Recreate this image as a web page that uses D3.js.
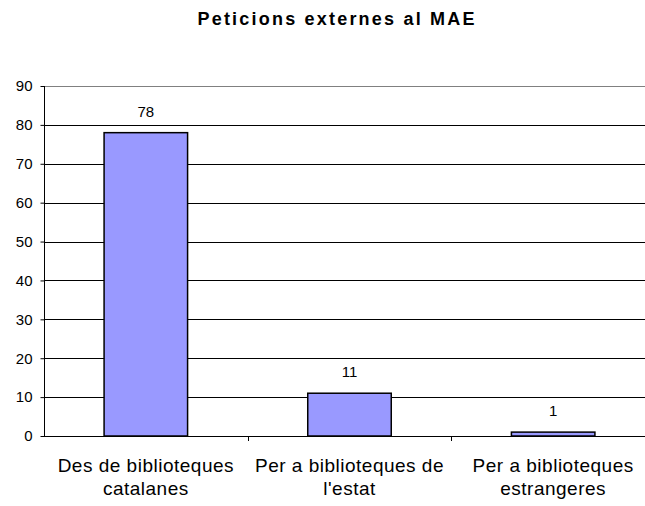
<!DOCTYPE html>
<html>
<head>
<meta charset="utf-8">
<script src="https://cdn.jsdelivr.net/npm/d3@7"></script>
<style>
  body { margin: 0; background: #fff; }
  svg { display: block; font-family: "Liberation Sans", Arial, sans-serif; }
</style>
</head>
<body>
<div id="chart"></div>
<script>
// data
var categories = [
    ["Des de biblioteques", "catalanes"],
    ["Per a biblioteques de", "l'estat"],
    ["Per a biblioteques", "estrangeres"]
];
var values = [78, 11, 1];
var yTicks = [0, 10, 20, 30, 40, 50, 60, 70, 80, 90];
var title = "Peticions externes al MAE";

var width = 645, height = 506,
    plotLeft = 44, plotRight = 655, plotTop = 86, plotBottom = 436;

var svg = d3.select("#chart").append("svg")
    .attr("width", width)
    .attr("height", height)
    .style("overflow", "hidden");

var keys = categories.map(function(c) { return c.join(" "); });

var x = d3.scaleBand()
    .domain(keys)
    .range([plotLeft, plotRight])
    .paddingInner(0.59)
    .paddingOuter(0.295);

var y = d3.scaleLinear()
    .domain([0, 90])
    .range([plotBottom, plotTop]);

// title
svg.append("text")
    .attr("x", 336)
    .attr("y", 25)
    .attr("text-anchor", "middle")
    .attr("font-size", "18px")
    .attr("font-weight", "bold")
    .attr("textLength", 277)
    .attr("lengthAdjust", "spacing")
    .text(title);

// gridlines
svg.append("g")
    .selectAll("line")
    .data(yTicks.filter(function(d) { return d > 0; }))
    .enter().append("line")
    .attr("x1", plotLeft)
    .attr("x2", plotRight)
    .attr("y1", function(d) { return Math.round(y(d)) + 0.5; })
    .attr("y2", function(d) { return Math.round(y(d)) + 0.5; })
    .attr("stroke", function(d) { return d === 90 ? "#808080" : "#000"; })
    .attr("stroke-width", 1);

// bars
svg.append("g")
    .selectAll("rect")
    .data(values)
    .enter().append("rect")
    .attr("x", function(d, i) { return x(keys[i]); })
    .attr("y", function(d) { return y(d); })
    .attr("width", x.bandwidth())
    .attr("height", function(d) { return y(0) - y(d); })
    .attr("fill", "#9999ff")
    .attr("stroke", "#000")
    .attr("stroke-width", 1.5);

// value labels
svg.append("g")
    .selectAll("text")
    .data(values)
    .enter().append("text")
    .attr("x", function(d, i) { return x(keys[i]) + x.bandwidth() / 2; })
    .attr("y", function(d) { return y(d) - 16; })
    .attr("text-anchor", "middle")
    .attr("font-size", "15px")
    .attr("fill", "#000")
    .text(function(d) { return d; });

// y axis
var yAxis = d3.axisLeft(y)
    .tickValues(yTicks)
    .tickSize(4)
    .tickPadding(8);

var gy = svg.append("g")
    .attr("transform", "translate(" + (plotLeft + 0.5) + ",0)")
    .call(yAxis);
gy.select(".domain").remove();
gy.append("line")
    .attr("y1", plotTop)
    .attr("y2", plotBottom + 1)
    .attr("stroke", "#000");
gy.selectAll(".tick text")
    .attr("font-size", "15px")
    .attr("font-family", "\"Liberation Sans\", Arial, sans-serif")
    .attr("fill", "#000");
gy.selectAll(".tick line").attr("stroke", "#000");

// x axis line with ticks at category boundaries
var step = x.step();
var boundaries = keys.map(function(k) { return x(k) - step * x.paddingInner() / 2; }).slice(1);

var gx = svg.append("g");
gx.append("line")
    .attr("x1", plotLeft)
    .attr("x2", plotRight)
    .attr("y1", plotBottom + 0.5)
    .attr("y2", plotBottom + 0.5)
    .attr("stroke", "#000");
gx.selectAll(".xtick")
    .data(boundaries)
    .enter().append("line")
    .attr("class", "xtick")
    .attr("x1", function(d) { return Math.round(d) + 0.5; })
    .attr("x2", function(d) { return Math.round(d) + 0.5; })
    .attr("y1", plotBottom)
    .attr("y2", plotBottom + 5)
    .attr("stroke", "#000");

// category labels, two lines each
var labels = gx.selectAll(".xlabel")
    .data(categories)
    .enter().append("text")
    .attr("class", "xlabel")
    .attr("text-anchor", "middle")
    .attr("font-size", "19px")
    .attr("letter-spacing", "0.5px")
    .attr("fill", "#000");
labels.selectAll("tspan")
    .data(function(d, i) { return d.map(function(s) { return {s: s, i: i}; }); })
    .enter().append("tspan")
    .attr("x", function(d) { return x(keys[d.i]) + x.bandwidth() / 2; })
    .attr("y", function(d, j) { return 472 + j * 23; })
    .text(function(d) { return d.s; });
</script>
</body>
</html>
